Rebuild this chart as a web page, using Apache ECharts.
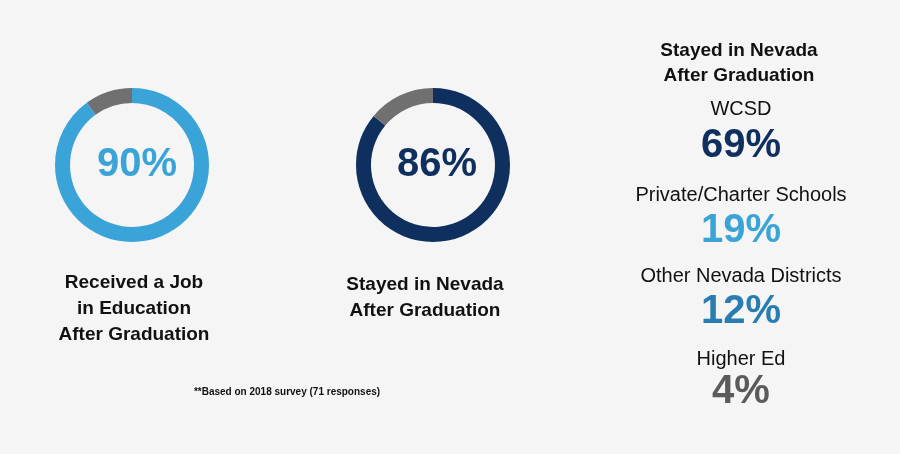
<!DOCTYPE html>
<html>
<head>
<meta charset="utf-8">
<script src="https://cdn.jsdelivr.net/npm/echarts@6/dist/echarts.min.js"></script>
<style>html,body{margin:0;background:#f5f5f5}#c{width:900px;height:454px}</style>
</head>
<body>
<div id="c"></div>
<script>
// donut values
const jobValues = [90, 10];
const nevadaValues = [86, 14];
// breakdown list
const districtNames = ['WCSD', 'Private/Charter Schools', 'Other Nevada Districts', 'Higher Ed'];
const districtShares = [69, 19, 12, 4];
const districtColors = ['#0f2f5f', '#3aa3d8', '#2a7db2', '#5b5b5b'];
const nameY = [110, 196, 277, 360];
const shareY = [147, 232, 313, 393];

const chart = echarts.init(document.getElementById('c'));

function donut(center, values, color) {
  return {
    type: 'pie',
    center: center,
    radius: [62, 77],
    startAngle: 90,
    silent: true,
    label: { show: false },
    data: [
      { value: values[0], itemStyle: { color: color } },
      { value: values[1], itemStyle: { color: '#707070' } }
    ]
  };
}

const graphic = [
  { type: 'text', left: 97, top: 145, style: { text: jobValues[0] + '%', font: 'bold 40px Arial, Liberation Sans', fill: '#3aa3d8' } },
  { type: 'text', left: 397, top: 145, style: { text: nevadaValues[0] + '%', font: 'bold 40px Arial, Liberation Sans', fill: '#0f2f5f' } },
  { type: 'text', x: 134, y: 270, style: { text: 'Received a Job\nin Education\nAfter Graduation', align: 'center', lineHeight: 26, font: 'bold 19px Arial, Liberation Sans', fill: '#111' } },
  { type: 'text', x: 425, y: 272, style: { text: 'Stayed in Nevada\nAfter Graduation', align: 'center', lineHeight: 26, font: 'bold 19px Arial, Liberation Sans', fill: '#111' } },
  { type: 'text', x: 287, y: 387, style: { text: '**Based on 2018 survey (71 responses)', align: 'center', font: 'bold 10px Arial, Liberation Sans', fill: '#111' } },
  { type: 'text', x: 739, y: 38, style: { text: 'Stayed in Nevada\nAfter Graduation', align: 'center', lineHeight: 25, font: 'bold 19px Arial, Liberation Sans', fill: '#111' } }
];
districtNames.forEach((n, i) => {
  graphic.push({ type: 'text', x: 741, y: nameY[i] - 11, style: { text: n, align: 'center', font: '20px Arial, Liberation Sans', fill: '#111' } });
  graphic.push({ type: 'text', x: 741, y: shareY[i] - 21, style: { text: districtShares[i] + '%', align: 'center', font: 'bold 40px Arial, Liberation Sans', fill: districtColors[i] } });
});

chart.setOption({
  backgroundColor: '#f5f5f5',
  animation: false,
  series: [
    donut([132, 165], jobValues, '#3aa3d8'),
    donut([433, 165], nevadaValues, '#0f2f5f')
  ],
  graphic: graphic
});
</script>
</body>
</html>
